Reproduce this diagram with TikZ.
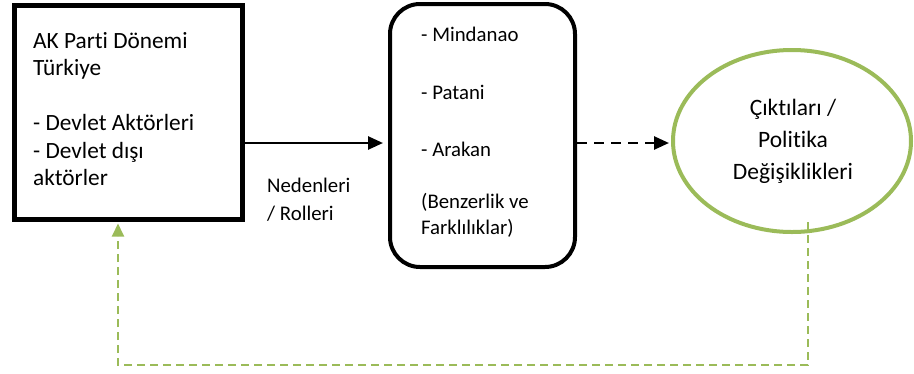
\documentclass[tikz,border=0pt]{standalone}
\usepackage{fontspec}
\setmainfont{Carlito}[Ligatures={NoCommon,NoRare,NoContextual}]
\usetikzlibrary{shapes.geometric,arrows.meta}
\definecolor{ogreen}{RGB}{155,187,89}
\tikzset{
  boxtext/.style={inner sep=0pt, align=left, anchor=west, text=black},
  bigtip/.style={-{Triangle[length=15pt,width=13pt]}},
  greentip/.style={-{Triangle[length=13pt,width=12pt]}},
}
\begin{document}
\begin{tikzpicture}[x=1pt,y=-1pt]
\useasboundingbox (0,0) rectangle (914,373);
% box 1
\node[draw=black, line width=5pt, rectangle, minimum width=228pt, minimum height=214pt, inner sep=0pt, anchor=north west] (b1) at (12,2.5) {};
\node[boxtext, font=\fontsize{23.3}{27.4}\selectfont] (t1) at (33,109)
 {AK Parti Dönemi\\Türkiye\\[27.4pt]- Devlet Aktörleri\\- Devlet dışı\\aktörler};
% box 2
\node[draw=black, line width=4pt, rectangle, rounded corners=30pt, minimum width=185pt, minimum height=263pt, inner sep=0pt, anchor=north west] (b2) at (388,2) {};
\node[boxtext, font=\fontsize{20.8}{26}\selectfont] (t2) at (421,132)
 {- Mindanao\\[32pt]- Patani\\[31pt]- Arakan\\[26pt](Benzerlik ve\\Farklılıklar)};
% ellipse
\node[draw=ogreen, line width=4pt, ellipse, minimum width=238pt, minimum height=182pt, inner sep=0pt] (out) at (792,141) {};
\node[inner sep=0pt, align=center, font=\fontsize{23.5}{32}\selectfont] (t3) at (793,141)
 {Çıktıları /\\Politika\\Değişiklikleri};
% label
\node[boxtext, font=\fontsize{20.8}{28}\selectfont] (lab) at (267,200) {Nedenleri\\/ Rolleri};
% connectors
\coordinate (a1) at (b1.east |- 0,143);
\coordinate (a2) at ([xshift=-5pt]b2.west |- 0,143);
\draw[line width=2.6pt, bigtip] (a1) -- (a2);
\coordinate (d1) at (b2.east |- 0,143);
\coordinate (d2) at ([xshift=-2pt]out.west |- 0,143);
\draw[line width=2.6pt, dash pattern=on 10pt off 7pt, bigtip] (d1) -- (d2);
\coordinate (g0) at (808,222);
\coordinate (g1) at (808,365);
\coordinate (g2) at (118,365);
\coordinate (g3) at ([yshift=-2pt]b1.south -| 118,0);
\draw[ogreen, line width=2pt, dash pattern=on 8pt off 5pt, greentip] (g0) -- (g1) -- (g2) -- (g3);
\end{tikzpicture}
\end{document}
